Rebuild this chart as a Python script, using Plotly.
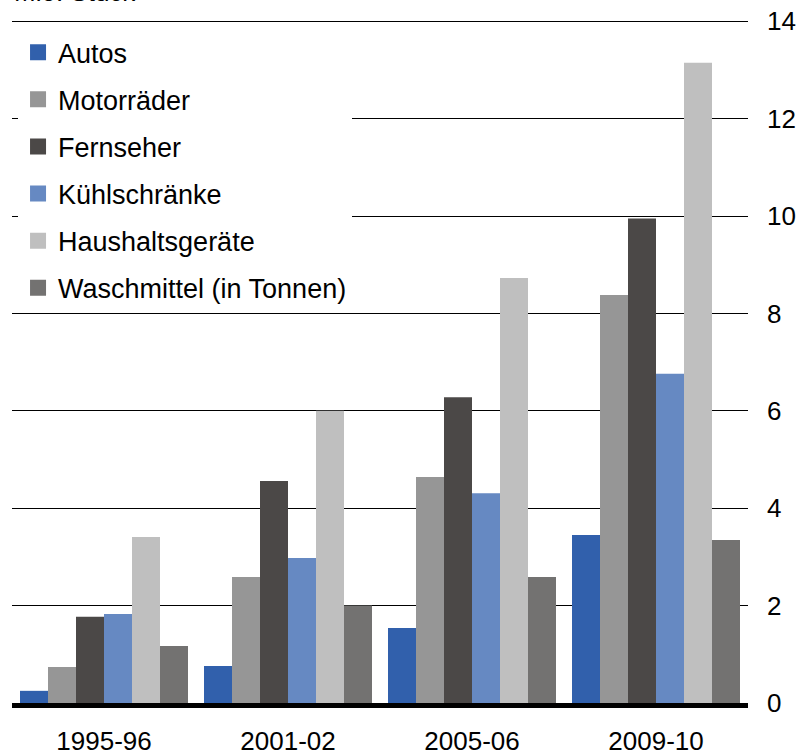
import plotly.graph_objects as go

# Mio. Stück
periods = ['1995-96', '2001-02', '2005-06', '2009-10']
series = ['Autos', 'Motorräder', 'Fernseher', 'Kühlschränke', 'Haushaltsgeräte', 'Waschmittel (in Tonnen)']
autos = [0.25, 0.76, 1.54, 3.45]
motorraeder = [0.74, 2.59, 4.64, 8.38]
fernseher = [1.77, 4.56, 6.28, 9.95]
kuehlschraenke = [1.83, 2.98, 4.31, 6.76]
haushaltsgeraete = [3.41, 6.0, 8.73, 13.15]
waschmittel = [1.17, 2.0, 2.59, 3.35]
values = [autos, motorraeder, fernseher, kuehlschraenke, haushaltsgeraete, waschmittel]
colors = ['#3160ac', '#969696', '#4b4847', '#6689c2', '#bfbfbf', '#737271']

FONT = 'Liberation Sans, Arial, sans-serif'

fig = go.Figure()
for name, vals, col in zip(series, values, colors):
    fig.add_trace(go.Bar(x=periods, y=vals, name=name, marker_color=col,
                         marker_line_width=0, showlegend=False))
# legend entries with bigger square symbols
for name, col in zip(series, colors):
    fig.add_trace(go.Scatter(x=[None], y=[None], mode='markers', name=name,
                             legendgroup=name,
                             marker=dict(symbol='square', size=17, color=col)))

fig.update_layout(
    width=800, height=754,
    margin=dict(l=12, r=52, t=14, b=51),
    paper_bgcolor='white', plot_bgcolor='white',
    font=dict(family=FONT, size=26, color='black'),
    barmode='group', bargap=0.087, bargroupgap=0,
    legend=dict(x=0.0082, y=0.9794, xanchor='left', yanchor='top',
                bgcolor='white', traceorder='grouped', tracegroupgap=9,
                font=dict(size=27), itemwidth=30),
    annotations=[dict(text='Mio. Stück', xref='paper', yref='paper', x=0, y=1,
                      xanchor='left', yanchor='bottom', yshift=5, showarrow=False,
                      font=dict(size=26))],
)
fig.update_xaxes(type='category', automargin=False, showline=True, linecolor='black',
                 linewidth=5, showgrid=False, ticks='', ticklabelstandoff=11)
# a little headroom above 14 so its gridline is not clipped at the edge
fig.update_yaxes(side='right', automargin=False, range=[0, 14.15], dtick=2, showgrid=True,
                 gridcolor='black', gridwidth=1, zeroline=False, ticks='',
                 ticklabelstandoff=18, tickfont=dict(size=26))

# drop the default 8px body margin so the figure sits at the window corner
fig.write_html('out.html', config={'displayModeBar': False},
               post_script="document.body.style.margin='0';")
